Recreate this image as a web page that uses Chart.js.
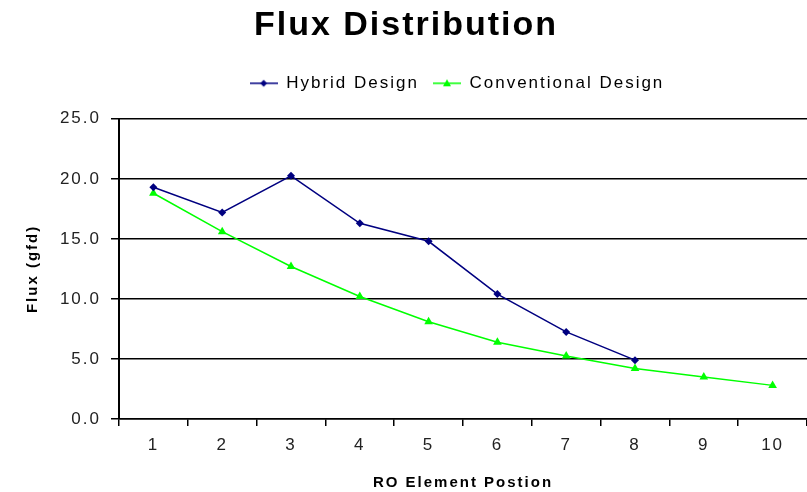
<!DOCTYPE html>
<html>
<head>
<meta charset="utf-8">
<script src="https://cdn.jsdelivr.net/npm/chart.js@4/dist/chart.umd.min.js"></script>
<style>
  html, body { margin: 0; padding: 0; background: #fff; overflow: hidden; }
  #wrap { width: 812px; height: 492px; }
</style>
</head>
<body>
<div id="wrap"><canvas id="c" width="812" height="492"></canvas></div>
<script>
// Element positions along the pressure vessel
const positions = ['1', '2', '3', '4', '5', '6', '7', '8', '9', '10'];
// Permeate flux per element, gfd
const hybridFlux = [19.3, 17.2, 20.25, 16.3, 14.8, 10.4, 7.25, 4.9];
const conventionalFlux = [18.8, 15.6, 12.7, 10.2, 8.1, 6.4, 5.25, 4.2, 3.5, 2.8];
const yTicks = [0, 5, 10, 15, 20, 25];

const FONT = "'Liberation Sans', Arial, sans-serif";
const NAVY = '#000080';
const GREEN = '#00ff00';

// small line-plus-marker swatch for the legend
function legendMark(color, shape) {
  const cv = document.createElement('canvas');
  cv.width = 28; cv.height = 12;
  const g = cv.getContext('2d');
  g.strokeStyle = color; g.lineWidth = 1.5;
  g.beginPath(); g.moveTo(0, 6); g.lineTo(28, 6); g.stroke();
  g.fillStyle = color;
  g.beginPath();
  if (shape === 'diamond') {
    g.moveTo(14, 2.5); g.lineTo(17.5, 6); g.lineTo(14, 9.5); g.lineTo(10.5, 6);
  } else {
    g.moveTo(14, 2); g.lineTo(18, 9); g.lineTo(10, 9);
  }
  g.closePath(); g.fill();
  return cv;
}
const marks = [legendMark(NAVY, 'diamond'), legendMark(GREEN, 'triangle')];

// wide glyph spacing for all chart text, plus legend placement tweaks
const spacing = {
  id: 'spacing',
  beforeInit(c) { c.ctx.letterSpacing = '2px'; },
  afterInit(c) {
    const lg = c.legend;
    const fit = lg.fit;
    // extra room between the legend row and the plot
    lg.fit = function () { fit.call(this); this.height += 17; };
  },
  beforeUpdate(c) { c.ctx.letterSpacing = '2px'; },
  beforeLayout(c) { c.ctx.letterSpacing = '2px'; },
  beforeDraw(c) { c.ctx.letterSpacing = '2px'; },
  // keep the legend row centred over the plot rather than the page
  afterLayout(c) { c.legend.left += 51; c.legend.right += 51; }
};

new Chart(document.getElementById('c'), {
  type: 'line',
  data: {
    labels: positions,
    datasets: [
      {
        label: 'Hybrid Design',
        data: hybridFlux,
        borderColor: NAVY,
        backgroundColor: NAVY,
        borderWidth: 1.5,
        pointStyle: 'rectRot',
        pointRadius: 4,
        pointBorderWidth: 0,
        tension: 0
      },
      {
        label: 'Conventional Design',
        data: conventionalFlux,
        borderColor: GREEN,
        backgroundColor: GREEN,
        borderWidth: 1.5,
        pointStyle: 'triangle',
        pointRadius: 5,
        pointBorderWidth: 0,
        tension: 0
      }
    ]
  },
  options: {
    responsive: false,
    animation: false,
    devicePixelRatio: 1,
    layout: { padding: { top: 0, right: 0, bottom: 0, left: 0 } },
    plugins: {
      title: {
        display: true,
        text: 'Flux Distribution',
        color: '#000',
        font: { family: FONT, size: 34, weight: 'bold' },
        padding: { top: 5, bottom: 15 }
      },
      legend: {
        display: true,
        position: 'top',
        labels: {
          color: '#000',
          font: { family: FONT, size: 17 },
          usePointStyle: true,
          pointStyleWidth: 28,
          padding: 14,
          generateLabels(chart) {
            return chart.data.datasets.map((ds, i) => ({
              text: ds.label,
              fillStyle: ds.borderColor,
              strokeStyle: ds.borderColor,
              pointStyle: marks[i],
              datasetIndex: i,
              hidden: false,
              lineWidth: 0,
              fontColor: '#000'
            }));
          }
        }
      },
      tooltip: { enabled: false }
    },
    scales: {
      x: {
        type: 'category',
        offset: true,
        grid: {
          display: true,
          offset: true,
          drawOnChartArea: false,
          drawTicks: true,
          tickLength: 7,
          color: '#000',
          lineWidth: 1.5
        },
        border: { display: true, color: '#000', width: 1.5 },
        ticks: {
          color: '#222',
          font: { family: FONT, size: 17 },
          padding: 9,
          maxRotation: 0,
          autoSkip: false
        },
        title: {
          display: true,
          text: 'RO Element Postion',
          color: '#000',
          font: { family: FONT, size: 15, weight: 'bold' },
          padding: { top: 0, bottom: 0 }
        },
        afterFit(s) { s.height = 73; }
      },
      y: {
        min: 0,
        max: 25,
        afterBuildTicks(s) { s.ticks = yTicks.map(v => ({ value: v })); },
        grid: {
          display: true,
          drawOnChartArea: true,
          drawTicks: true,
          tickLength: 8,
          color: '#000',
          lineWidth: 1.5
        },
        border: { display: true, color: '#000', width: 2 },
        ticks: {
          color: '#222',
          font: { family: FONT, size: 17 },
          padding: 10,
          callback: v => Number(v).toFixed(1)
        },
        title: {
          display: true,
          text: 'Flux (gfd)',
          color: '#000',
          font: { family: FONT, size: 15, weight: 'bold' },
          padding: { top: 24, bottom: 0 }
        },
        afterFit(s) { s.width = 119; }
      }
    }
  },
  plugins: [spacing]
});
</script>
</body>
</html>
